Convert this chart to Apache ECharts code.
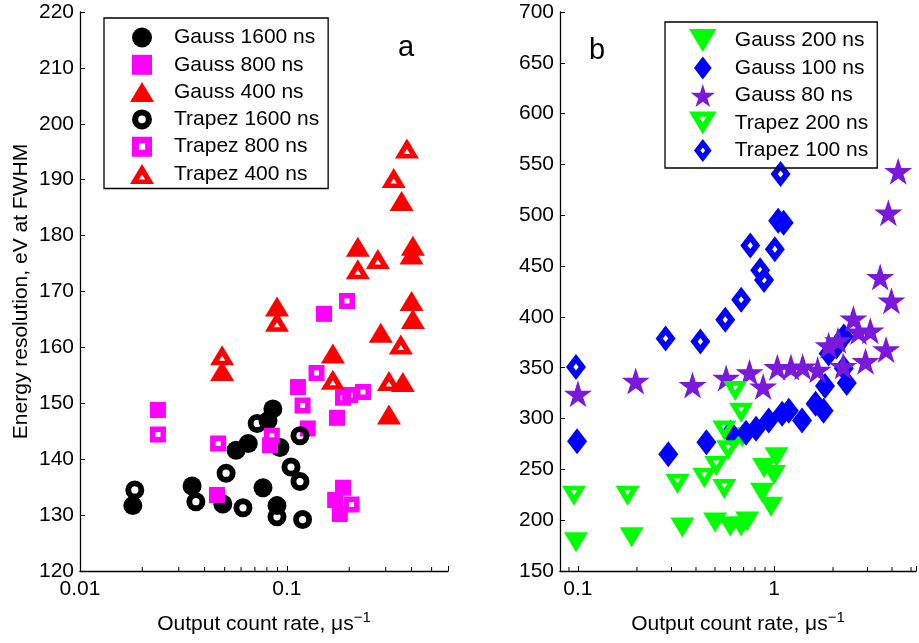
<!DOCTYPE html>
<html>
<head>
<meta charset="utf-8">
<script src="https://cdn.jsdelivr.net/npm/echarts@6/dist/echarts.min.js"></script>
<style>
  html, body { margin: 0; padding: 0; background: #fff; }
  #chart { width: 919px; height: 643px; }
</style>
</head>
<body>
<div id="chart"></div>
<script>
// panel a : [output count rate, resolution]
var gauss1600 = [[0.018,131.7],[0.0348,135.2],[0.049,132.0],[0.0568,141.6],[0.065,142.8],[0.0766,134.9],[0.081,146.9],[0.0855,149.0],[0.0925,142.1],[0.0895,131.7]];
var gauss800 = [[0.0238,148.8],[0.0459,133.6],[0.0828,142.5],[0.113,152.9],[0.126,145.5],[0.151,166.0],[0.1745,147.4],[0.1866,134.9],[0.171,132.7],[0.18,130.2]];
var gauss400 = [[0.0486,155.8],[0.0895,167.3],[0.1667,158.9],[0.284,162.6],[0.311,148.0],[0.363,153.8],[0.406,165.1],[0.40,168.3],[0.22,178.0],[0.358,186.2],[0.406,178.2],[0.40,176.6]];
var trapez1600 = [[0.0184,134.5],[0.0363,132.4],[0.0508,137.5],[0.0613,131.3],[0.0718,146.4],[0.0895,129.7],[0.1046,138.6],[0.1156,144.2],[0.1156,136.0],[0.119,129.2]];
var trapez800 = [[0.0238,144.4],[0.0465,142.8],[0.0845,144.2],[0.119,149.6],[0.139,155.4],[0.195,168.3],[0.1866,151.0],[0.202,151.5],[0.233,152.0],[0.205,131.9]];
var trapez400 = [[0.0486,158.6],[0.0895,164.6],[0.1667,154.2],[0.311,154.0],[0.355,160.5],[0.22,174.0],[0.275,175.8],[0.328,190.3],[0.38,195.6]];

// panel b
var gauss200 = [[0.0977,178.2],[0.188,183.1],[0.341,192.8],[0.501,197.7],[0.598,193.8],[0.68,193.8],[0.73,198.7],[0.966,213.3],[0.869,226.9],[0.89,251.3],[1.0,244.4],[1.03,262.0],[0.64,280.5],[0.69,281.5]];
var gauss100 = [[0.099,277.6],[0.289,264.9],[0.452,276.6],[0.60,286],[0.72,286],[0.81,290],[0.94,298],[1.1,304.8],[1.19,307.7],[1.39,298],[1.63,314.6],[1.79,307.7],[1.82,332],[1.90,364],[2.08,371],[2.27,380.8],[2.27,349.6],[2.35,335]];
var gauss80 = [[0.1,324.3],[0.197,337],[0.384,333],[0.57,340],[0.75,345.5],[0.88,331.5],[1.04,350.5],[1.22,350.6],[1.4,351],[1.67,348],[1.9,372],[2.12,377],[2.25,351.6],[2.54,398.3],[2.7,385.6],[3.1,386.5],[2.93,356.4],[3.73,368],[3.97,416],[3.48,439.2],[3.83,502.5],[4.3,543.4]];
var trapez200 = [[0.0954,224.0],[0.179,224.0],[0.322,235.7],[0.441,241.5],[0.508,253.2],[0.558,230.8],[0.584,268.8],[0.558,288.3],[0.634,327.2],[0.68,305.8]];
var trapez100 = [[0.0977,350.6],[0.28,378.8],[0.421,375.9],[0.564,397.3],[0.68,416.8],[0.757,470.3],[0.85,446],[0.89,436.3],[1.01,466.5],[1.05,494.7],[1.12,492.7],[1.08,540.5]];

// log axis minor ticks
var minorA = [0.02,0.03,0.04,0.05,0.06,0.07,0.08,0.09,0.2,0.3,0.4,0.5];
var minorB = [0.09,0.2,0.3,0.4,0.5,0.6,0.7,0.8,0.9,2,3,4,5];

var FONT = 'Liberation Sans';
// marker shapes as paths so the legend keeps their proportions; open ones have a hole
var DOT = 'path://M10,0 A10,10 0 1,1 10,20 A10,10 0 1,1 10,0 Z';
var RING = 'path://M10,0 A10,10 0 1,1 10,20 A10,10 0 1,1 10,0 Z M10,6.2 A3.8,3.8 0 1,0 10,13.8 A3.8,3.8 0 1,0 10,6.2 Z';
var SQ = 'path://M0,0 L16,0 L16,16 L0,16 Z';
var SQ_O = 'path://M0,0 L16,0 L16,16 L0,16 Z M5.5,5.5 L5.5,10.5 L10.5,10.5 L10.5,5.5 Z';
var UP = 'path://M12,0 L24,20 L0,20 Z';
var UP_O = 'path://M12,0 L24,20 L0,20 Z M12,10.5 L8.8,15.5 L15.2,15.5 Z';
var DOWN = 'path://M0,0 L24,0 L12,20 Z';
var DOWN_O = 'path://M0,0 L24,0 L12,20 Z M8.8,4.5 L12,9.5 L15.2,4.5 Z';
var DIA = 'path://M10,0 L20,13 L10,26 L0,13 Z';
var DIA_O = 'path://M10,0 L20,13 L10,26 L0,13 Z M10,9.5 L7.3,13 L10,16.5 L12.7,13 Z';
var STAR = 'path://M50,0 L61,35 L98,35 L68,57 L79,91 L50,70 L21,91 L32,57 L2,35 L39,35 Z';

var chart = echarts.init(document.getElementById('chart'));

function xAxis(idx, min, max) {
  return {
    type: 'log', gridIndex: idx, min: min, max: max, logBase: 10,
    axisLine: { lineStyle: { color: '#000', width: 1.3 } },
    axisTick: { inside: true, length: 5, lineStyle: { color: '#000' } },
    splitLine: { show: false },
    axisLabel: {
      color: '#000', fontSize: 21, fontFamily: FONT, margin: 8,
      formatter: function (v) {
        var l = Math.log(v) / Math.LN10;
        if (Math.abs(l - Math.round(l)) > 1e-6) return '';
        return String(Math.pow(10, Math.round(l)));
      }
    },
    name: 'Output count rate, μs{sup|−1}',
    nameLocation: 'middle', nameGap: 39,
    nameTextStyle: {
      color: '#000', fontSize: 21, fontFamily: FONT, lineHeight: 28,
      rich: { sup: { fontSize: 15, fontFamily: FONT, color: '#000', verticalAlign: 'top', lineHeight: 15 } }
    }
  };
}
function yAxis(idx, min, max, step, name) {
  return {
    type: 'value', gridIndex: idx, min: min, max: max, interval: step,
    axisLine: { show: true, lineStyle: { color: '#000', width: 1.3 } },
    axisTick: { show: true, inside: true, length: 5, lineStyle: { color: '#000' } },
    splitLine: { show: false },
    axisLabel: { color: '#000', fontSize: 21, fontFamily: FONT, margin: 6 },
    name: name, nameLocation: 'middle', nameGap: 48,
    nameTextStyle: { color: '#000', fontSize: 21, fontFamily: FONT }
  };
}
function pts(name, data, gi, symbol, size, color) {
  return {
    name: name, type: 'scatter', xAxisIndex: gi, yAxisIndex: gi,
    data: data, symbol: symbol, symbolSize: size,
    itemStyle: { color: color, opacity: 1, borderWidth: 0 },
    emphasis: { disabled: true }
  };
}
function minor(data, gi, y0) {
  return {
    type: 'custom', xAxisIndex: gi, yAxisIndex: gi, silent: true,
    data: data.map(function (v) { return [v, y0]; }),
    renderItem: function (params, api) {
      var p = api.coord([api.value(0), api.value(1)]);
      return { type: 'line', shape: { x1: p[0], y1: p[1], x2: p[0], y2: p[1] - 4 },
        style: { stroke: '#000', lineWidth: 1 } };
    }
  };
}
function legend(names, left, top, h, gap, pad) {
  return {
    data: names, orient: 'vertical', left: left, top: top,
    itemWidth: 54, itemHeight: h, itemGap: gap,
    padding: pad,
    borderColor: '#000', borderWidth: 1.3,
    textStyle: { color: '#000', fontSize: 21, fontFamily: FONT },
    selectedMode: false
  };
}

var option = {
  backgroundColor: '#fff',
  animation: false,
  grid: [
    { left: 80, top: 12, width: 368, height: 565 },
    { left: 560, top: 12, width: 358, height: 565 }
  ],
  xAxis: [xAxis(0, 0.01, 0.6), xAxis(1, 0.081, 5.3)],
  yAxis: [yAxis(0, 120, 220, 10, 'Energy resolution, eV at FWHM'), yAxis(1, 150, 700, 50, '')],
  legend: [
    legend(['Gauss 1600 ns', 'Gauss 800 ns', 'Gauss 400 ns', 'Trapez 1600 ns', 'Trapez 800 ns', 'Trapez 400 ns'],
      104, 18, 20, 6.3, [9, 9, 4, 26]),
    legend(['Gauss 200 ns', 'Gauss 100 ns', 'Gauss 80 ns', 'Trapez 200 ns', 'Trapez 100 ns'],
      665, 22, 23, 4.5, [7, 9, 6, 24])
  ],
  graphic: [
    { type: 'text', left: 398, top: 33, style: { text: 'a', fontSize: 29, fontFamily: FONT, fill: '#000' } },
    { type: 'text', left: 589, top: 36, style: { text: 'b', fontSize: 29, fontFamily: FONT, fill: '#000' } }
  ],
  series: [
    minor(minorA, 0, 120),
    minor(minorB, 1, 150),
    pts('Gauss 1600 ns', gauss1600, 0, DOT, 19, '#000000'),
    pts('Gauss 800 ns', gauss800, 0, SQ, 16, '#ff00ff'),
    pts('Gauss 400 ns', gauss400, 0, UP, [24, 20], '#ff0000'),
    pts('Trapez 1600 ns', trapez1600, 0, RING, 19, '#000000'),
    pts('Trapez 800 ns', trapez800, 0, SQ_O, 16, '#ff00ff'),
    pts('Trapez 400 ns', trapez400, 0, UP_O, [24, 20], '#ff0000'),
    pts('Gauss 200 ns', gauss200, 1, DOWN, [24, 20], '#00ff00'),
    pts('Gauss 100 ns', gauss100, 1, DIA, [20, 26], '#0000ff'),
    pts('Gauss 80 ns', gauss80, 1, STAR, [28, 27], '#7a18dc'),
    pts('Trapez 200 ns', trapez200, 1, DOWN_O, [24, 20], '#00ff00'),
    pts('Trapez 100 ns', trapez100, 1, DIA_O, [20, 26], '#0000ff')
  ]
};

chart.setOption(option);
</script>
</body>
</html>
